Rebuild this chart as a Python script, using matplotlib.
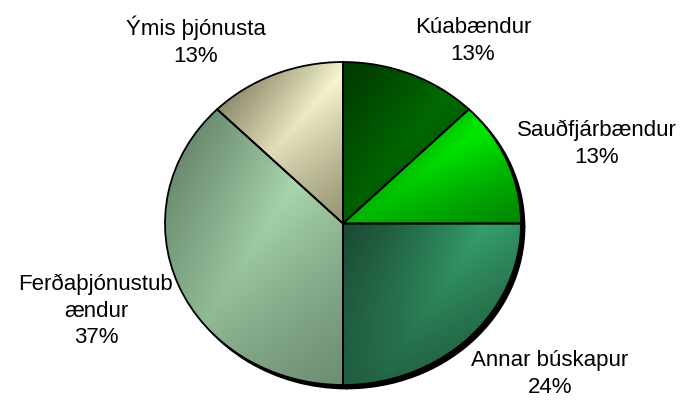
import numpy as np
import matplotlib
matplotlib.use("Agg")
import matplotlib.pyplot as plt
from matplotlib.patches import Shadow
from matplotlib.colors import to_rgb

# data (slice sizes from the drawn angles, labels as printed)
categories = ["Kúabændur", "Sauðfjárbændur", "Annar búskapur",
              "Ferðaþjónustub\nændur", "Ýmis þjónusta"]
counts = [1, 1, 2, 3, 1]
pct_labels = ["13%", "13%", "24%", "37%", "13%"]

# gradient colours per slice: shaded edge and highlight
dark = ["#003a00", "#006400", "#1a4a34", "#5c7a61", "#747155"]
light = ["#006e00", "#00f800", "#36a06c", "#b6e6ba", "#fefcd4"]
grad_angle = [40, 53, 34, 33, 42]
fade = [0.3, 0.45, 0.7, 0.55, 0.4]

# label centres in pixels (x, y from top)
label_pos = [(473, 41), (597, 144), (550, 374), (96, 311), (196, 41)]

W, H = 686, 403
fig = plt.figure(figsize=(W / 100, H / 100), dpi=100)
plt.rcParams['font.family'] = ['Liberation Sans', 'DejaVu Sans']

# pie box in pixels: x 165..521, y 62..385 (slightly wider than tall)
px0, px1, py0, py1 = 165, 521, 62, 385
ax = fig.add_axes([px0 / W, 1 - py1 / H, (px1 - px0) / W, (py1 - py0) / H])

wedges, _ = ax.pie(counts, startangle=90, counterclock=False, colors=light,
                   wedgeprops=dict(edgecolor="black", linewidth=1.3))
ax.set_aspect("auto")
ax.axis("off")

aw, ah = px1 - px0, py1 - py0
ox = 2.5 / aw * 2
oy = -2.5 / ah * 2
gx, gy = np.meshgrid(np.arange(aw) + 0.5, np.arange(ah) + 0.5)

for i, w in enumerate(wedges):
    sh = Shadow(w, ox, oy, facecolor="black", edgecolor="black", alpha=1, zorder=0.5)
    sh.set_clip_on(False)
    ax.add_patch(sh)

    # linear gradient across the slice's own bounding box, highlight in the middle
    ext = w.get_path().get_extents()
    bx0 = (ext.x0 + 1) / 2 * aw
    bx1 = (ext.x1 + 1) / 2 * aw
    by0 = (1 - ext.y1) / 2 * ah
    by1 = (1 - ext.y0) / 2 * ah
    a = np.deg2rad(grad_angle[i])
    c, s = np.cos(a), np.sin(a)
    t = ((gx - bx0) * c + (gy - by0) * s) / ((bx1 - bx0) * c + (by1 - by0) * s)
    t = np.clip(t, 0, 1)
    yf = np.clip((gy - by0) / (by1 - by0), 0, 1)
    rise = np.clip(t / 0.5, 0, 1) ** 1.3
    fall = 1 - 0.6 * np.clip((t - 0.5) / 0.5, 0, 1)
    f = np.where(t <= 0.5, rise, fall) * (1 - fade[i] * yf)
    c0 = np.array(to_rgb(dark[i]))
    c1 = np.array(to_rgb(light[i]))
    img = c0 + (c1 - c0) * f[..., None]
    im = ax.imshow(img, extent=(-1, 1, -1, 1), origin="upper",
                   interpolation="bilinear", zorder=1.5, aspect="auto")
    im.set_clip_path(w)

    w.set_facecolor("none")
    w.set_zorder(3)
    w.set_clip_on(False)

ax.set_xlim(-1, 1)
ax.set_ylim(-1, 1)

for name, pct, (x, y) in zip(categories, pct_labels, label_pos):
    fig.text(x / W, 1 - y / H, f"{name}\n{pct}",
             ha="center", va="center", fontsize=16, color="black",
             linespacing=1.35)

fig.savefig("out.png", dpi=100, facecolor="white")
